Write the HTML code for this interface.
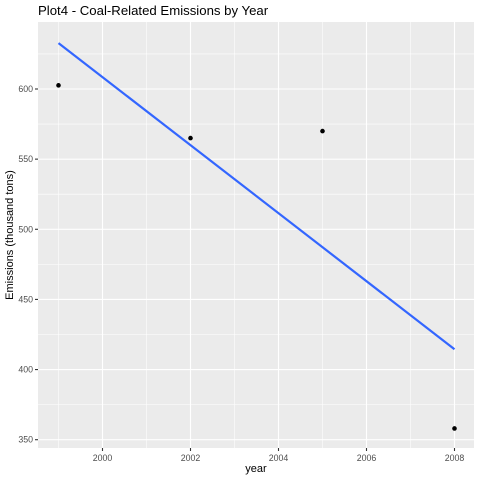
<!DOCTYPE html>
<html><head><meta charset="utf-8"><style>
body{margin:0;background:#fff}
svg text{font-family:"Liberation Sans",sans-serif}
</style></head><body>
<svg id="chart" width="480" height="480"></svg>
<script>
const years=[1999,2002,2005,2008];
const emissions=[602.6,565.0,570.0,358.0];
const fitStart=[1999,632.7];
const fitEnd=[2008,414.5];
const xTicks=[2000,2002,2004,2006,2008];
const yTicks=[350,400,450,500,550,600];
const NS='http://www.w3.org/2000/svg';
const svg=document.getElementById('chart');
const L=38,R=474,T=22,B=448;
const sx=v=>102.5+(v-2000)*44;
const sy=v=>89+(600-v)*1.4028;
function el(tag,attrs,parent){const e=document.createElementNS(NS,tag);for(const k in attrs)e.setAttribute(k,attrs[k]);(parent||svg).appendChild(e);return e;}
const bg=el('rect',{x:L,y:T,width:R-L,height:B-T,fill:'#ebebeb'});


for(let i=0;i<xTicks.length;i++){
  const mx=sx(xTicks[i]-1);
  const m=el('line',{x1:mx,x2:mx,y1:T,y2:B,stroke:'#fff','stroke-width':0.55});
  
  
}
{const mx=sx(2009);if(mx<R){const m=el('line',{x1:mx,x2:mx,y1:T,y2:B,stroke:'#fff','stroke-width':0.55});}}
for(let i=0;i<yTicks.length;i++){
  const my=sy(yTicks[i]+25);
  if(my>T){const m=el('line',{x1:L,x2:R,y1:my,y2:my,stroke:'#fff','stroke-width':0.55});
  
  }
}
xTicks.forEach(t=>{
  const x=sx(t);
  const g=el('line',{x1:x,x2:x,y1:T,y2:B,stroke:'#fff','stroke-width':1.1});
  
  
  el('line',{x1:x,x2:x,y1:B,y2:B+3,stroke:'#333','stroke-width':1.1});
  const tx=el('text',{x:x,y:B+13,'font-size':8.8,fill:'#4d4d4d','text-anchor':'middle'});
  tx.textContent=t;
  
  
});
yTicks.forEach(t=>{
  const y=sy(t);
  const g=el('line',{x1:L,x2:R,y1:y,y2:y,stroke:'#fff','stroke-width':1.1});
  
  
  el('line',{x1:L-3,x2:L,y1:y,y2:y,stroke:'#333','stroke-width':1.1});
  const tx=el('text',{x:L-5,y:y+3,'font-size':8.8,fill:'#4d4d4d','text-anchor':'end'});
  tx.textContent=t;
  
  
});
const fit=el('line',{x1:sx(fitStart[0]),y1:sy(fitStart[1]),x2:sx(fitEnd[0]),y2:sy(fitEnd[1]),stroke:'#3366ff','stroke-width':2.2});


years.forEach((yr,i)=>{
  const c=el('circle',{cx:sx(yr),cy:sy(emissions[i]),r:2.3,fill:'#000'});
  
  
});
const title=el('text',{x:L,y:15,'font-size':13.2,fill:'#000'});
title.textContent='Plot4 - Coal-Related Emissions by Year';


const xt=el('text',{x:(L+R)/2,y:472,'font-size':11,fill:'#000','text-anchor':'middle'});
xt.textContent='year';


const yt=el('text',{x:0,y:0,'font-size':11,fill:'#000','text-anchor':'middle',transform:`translate(13,${(T+B)/2}) rotate(-90)`});
yt.textContent='Emissions (thousand tons)';


</script>
</body></html>
